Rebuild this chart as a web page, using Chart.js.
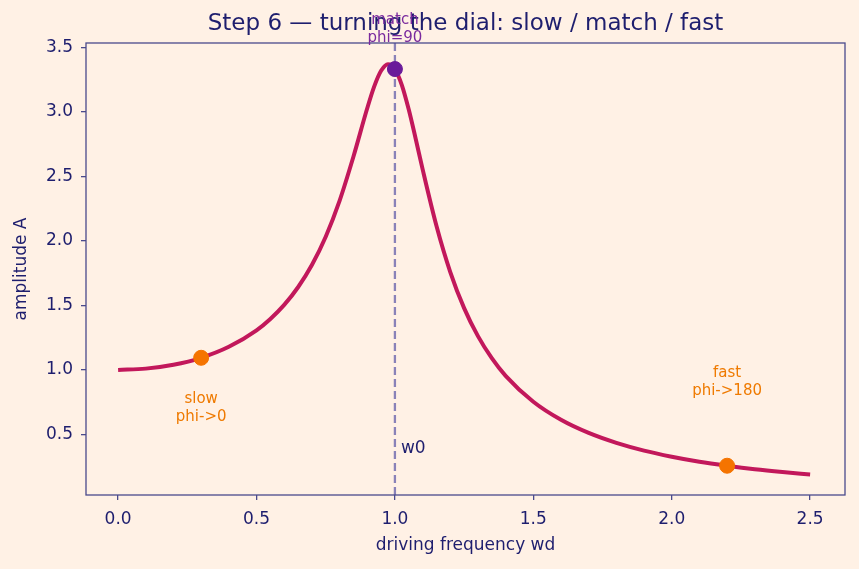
<!DOCTYPE html>
<html>
<head>
<meta charset="utf-8">
<script src="https://cdn.jsdelivr.net/npm/chart.js@4"></script>
<style>
  html, body { margin: 0; padding: 0; background: #FFF1E5; }
  #wrap { width: 859px; height: 569px; position: relative; }
</style>
</head>
<body>
<div id="wrap"><canvas id="chart"></canvas></div>
<script>
const freq = [0.0, 0.1, 0.2, 0.3, 0.4, 0.5, 0.55, 0.6, 0.65, 0.7, 0.75, 0.8, 0.85, 0.9, 0.925, 0.95, 0.975,
    1.0, 1.025, 1.05, 1.075, 1.1, 1.15, 1.2, 1.25, 1.3, 1.35, 1.4, 1.5, 1.6, 1.7, 1.8, 1.9, 2.0, 2.1, 2.2, 2.3, 2.4, 2.5];
const amplitude = [1.0, 1.01, 1.04, 1.094, 1.179, 1.307, 1.395, 1.504, 1.641, 1.813, 2.033, 2.311, 2.653, 3.029, 3.197, 3.320, 3.371,
    3.333, 3.209, 3.019, 2.793, 2.557, 2.118, 1.759, 1.479, 1.262, 1.091, 0.954, 0.753, 0.613, 0.511, 0.434, 0.374, 0.327, 0.288, 0.257, 0.230, 0.208, 0.189];

// marked regimes
const slowPoint = { x: 0.3, y: 1.094 };
const matchPoint = { x: 1.0, y: 3.333 };
const fastPoint = { x: 2.2, y: 0.257 };
const w0 = 1.0;

const xTicks = [0.0, 0.5, 1.0, 1.5, 2.0, 2.5];
const yTicks = [0.5, 1.0, 1.5, 2.0, 2.5, 3.0, 3.5];
const xRange = [-0.116, 2.626];
const yRange = [0.03, 3.535];

// text notes: [x, y, lines, colour]
const notes = [
    [0.3, 0.705, ['slow', 'phi->0'], '#EF7A00'],
    [2.2, 0.907, ['fast', 'phi->180'], '#EF7A00'],
    [1.0, 3.643, ['match', 'phi=90'], '#7A2A9E']
];

const navy = '#1E1E6E';
const frame = '#4A4A8C';
const font = "'DejaVu Sans', sans-serif";

const pts = freq.map((f, i) => ({ x: f, y: amplitude[i] }));

const decor = {
    id: 'decor',
    beforeDraw(chart) {
        const ctx = chart.ctx;
        ctx.save();
        ctx.fillStyle = '#FFF1E5';
        ctx.fillRect(0, 0, chart.width, chart.height);
        ctx.restore();
    },
    afterDraw(chart) {
        const ctx = chart.ctx;
        const a = chart.chartArea;
        const xs = chart.scales.x, ys = chart.scales.y;
        ctx.save();
        ctx.strokeStyle = frame;
        ctx.lineWidth = 1.3;
        ctx.strokeRect(a.left, a.top, a.right - a.left, a.bottom - a.top);

        ctx.fillStyle = navy;
        ctx.textAlign = 'center';
        ctx.textBaseline = 'middle';
        ctx.font = '23px ' + font;
        ctx.fillText('Step 6 \u2014 turning the dial: slow / match / fast', (a.left + a.right) / 2, 24);

        ctx.font = '17px ' + font;
        ctx.fillText('driving frequency wd', (a.left + a.right) / 2, 546);
        ctx.save();
        ctx.translate(22, (a.top + a.bottom) / 2);
        ctx.rotate(-Math.PI / 2);
        ctx.fillText('amplitude A', 0, 0);
        ctx.restore();

        ctx.textAlign = 'left';
        ctx.fillText('w0', xs.getPixelForValue(w0) + 6, ys.getPixelForValue(0.39));

        ctx.font = '15px ' + font;
        ctx.textAlign = 'center';
        for (const [x, y, lines, col] of notes) {
            const px = xs.getPixelForValue(x), py = ys.getPixelForValue(y);
            ctx.fillStyle = col;
            ctx.fillText(lines[0], px, py - 9);
            ctx.fillText(lines[1], px, py + 9);
        }
        ctx.restore();
    }
};

const tickCfg = (vals) => ({
    afterBuildTicks(scale) { scale.ticks = vals.map(v => ({ value: v })); }
});

new Chart(document.getElementById('chart'), {
    type: 'scatter',
    data: {
        datasets: [
            {
                data: [{ x: w0, y: yRange[0] }, { x: w0, y: yRange[1] }],
                showLine: true,
                borderColor: '#8A82B8',
                borderWidth: 2.3,
                borderDash: [8, 4],
                pointRadius: 0,
                order: 2
            },
            {
                data: pts,
                showLine: true,
                borderColor: '#C2185B',
                borderWidth: 4,
                pointRadius: 0,
                cubicInterpolationMode: 'monotone',
                order: 3
            },
            {
                data: [slowPoint, fastPoint],
                backgroundColor: '#F57400',
                borderColor: '#F57400',
                pointRadius: 7.5,
                order: 1
            },
            {
                data: [matchPoint],
                backgroundColor: '#6A1B9A',
                borderColor: '#6A1B9A',
                pointRadius: 7.5,
                order: 0
            }
        ]
    },
    options: {
        responsive: true,
        maintainAspectRatio: false,
        animation: false,
        layout: { padding: { top: 43, right: 14, left: 0, bottom: 0 } },
        plugins: { legend: { display: false }, tooltip: { enabled: false } },
        scales: {
            x: {
                type: 'linear',
                min: xRange[0],
                max: xRange[1],
                ...tickCfg(xTicks),
                afterFit(scale) { scale.height = 74; },
                border: { display: false },
                grid: { drawOnChartArea: false, color: frame, tickLength: 5, lineWidth: 1.3 },
                ticks: { color: navy, font: { family: font, size: 17 }, padding: 9,
                    callback: v => v.toFixed(1) }
            },
            y: {
                type: 'linear',
                min: yRange[0],
                max: yRange[1],
                ...tickCfg(yTicks),
                afterFit(scale) { scale.width = 86; },
                border: { display: false },
                grid: { drawOnChartArea: false, color: frame, tickLength: 5, lineWidth: 1.3 },
                ticks: { color: navy, font: { family: font, size: 17 }, padding: 8,
                    callback: v => v.toFixed(1) }
            }
        }
    },
    plugins: [decor]
});
</script>
</body>
</html>
